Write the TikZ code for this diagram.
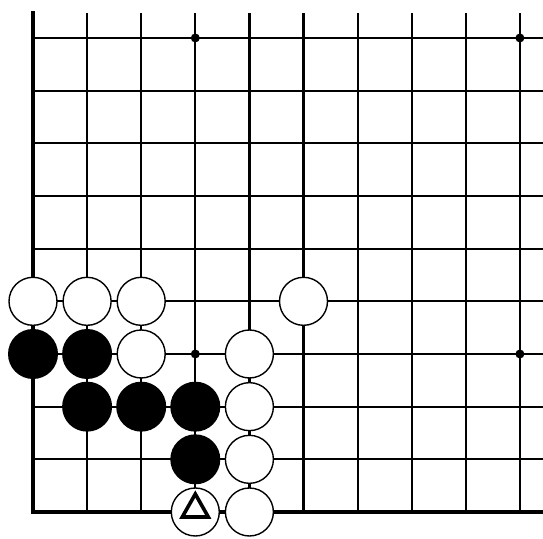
\documentclass[tikz,border=0pt]{standalone}
\begin{document}
\begin{tikzpicture}[x=1pt,y=1pt,
  gridline/.style={line width=2.2pt},
  edgeline/.style={line width=4pt, line cap=rect, line join=miter},
  wstone/.style={circle, draw=black, line width=1.4pt, fill=white, minimum size=48pt, inner sep=0pt},
  bstone/.style={circle, fill=black, minimum size=50pt, inner sep=0pt},
  hoshi/.style={circle, fill=black, minimum size=9pt, inner sep=0pt},
  trimark/.style={line width=3.6pt, line join=miter}]
\useasboundingbox (0,0) rectangle (543,538);
\begin{scope}[shift={(33,26)}, x=54.1pt, y=52.67pt]
  % grid
  \foreach \i in {1,...,9} \draw[gridline] (\i,0) -- (\i,9.47);
  \foreach \j in {1,...,9} \draw[gridline] (0,\j) -- (9.5,\j);
  \draw[edgeline] (0,9.47) -- (0,0) -- (9.5,0);
  % star points
  \node[hoshi] (h1) at (3,9) {};
  \node[hoshi] (h2) at (9,9) {};
  \node[hoshi] (h3) at (3,3) {};
  \node[hoshi] (h4) at (9,3) {};
  % white stones
  \node[wstone] (w1) at (0,4) {};
  \node[wstone] (w2) at (1,4) {};
  \node[wstone] (w3) at (2,4) {};
  \node[wstone] (w4) at (5,4) {};
  \node[wstone] (w5) at (2,3) {};
  \node[wstone] (w6) at (4,3) {};
  \node[wstone] (w7) at (4,2) {};
  \node[wstone] (w8) at (4,1) {};
  \node[wstone] (w9) at (4,0) {};
  \node[wstone] (wt) at (3,0) {};
  % black stones
  \node[bstone] (b1) at (0,3) {};
  \node[bstone] (b2) at (1,3) {};
  \node[bstone] (b3) at (1,2) {};
  \node[bstone] (b4) at (2,2) {};
  \node[bstone] (b5) at (3,2) {};
  \node[bstone] (b6) at (3,1) {};
\end{scope}
% triangle mark on the last white stone
\draw[trimark] ([shift={(0pt,18pt)}]wt.center) -- ([shift={(-13pt,-5pt)}]wt.center) -- ([shift={(13pt,-5pt)}]wt.center) -- cycle;
\end{tikzpicture}
\end{document}
